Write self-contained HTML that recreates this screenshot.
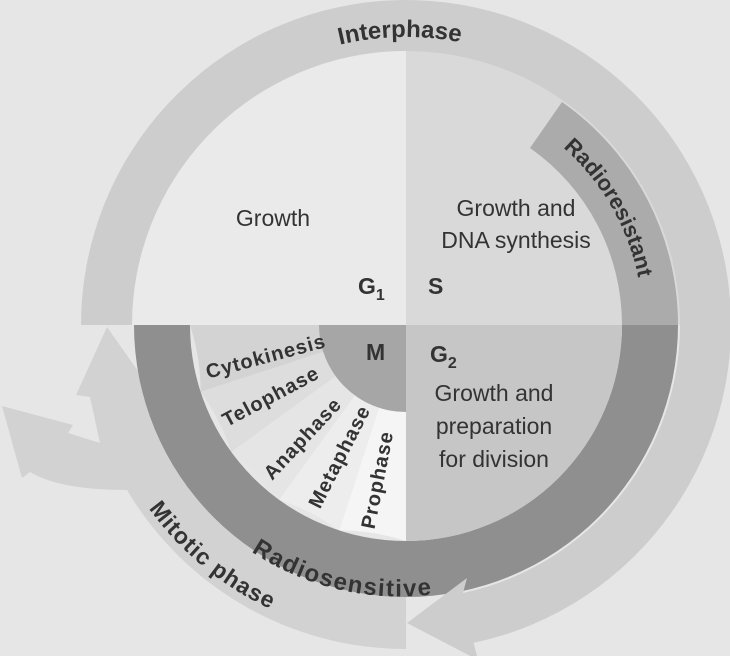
<!DOCTYPE html>
<html><head><meta charset="utf-8"><style>
html,body{margin:0;padding:0;background:#e6e6e6;}
svg{display:block;}
text{font-family:"Liberation Sans",Arial,sans-serif;fill:#333;}
.b{font-weight:bold;}
</style></head><body>
<svg width="730" height="656" viewBox="0 0 730 656" xmlns="http://www.w3.org/2000/svg">
<rect width="730" height="656" fill="#e6e6e6"/>
<defs>
<path id="pInter" d="M262,75.6 A288 288 0 0 1 550,75.6"/>
<path id="pRes" d="M524.5,119.7 A237 237 0 0 1 643,325"/>
<path id="pSens" d="M195.3,501.4 A266 266 0 0 0 505.6,574.2"/>
<path id="pMit" d="M108.8,433.7 A314 314 0 0 0 351.8,634.3"/>
</defs>
<path d="M406,325 L130,325 A276 276 0 0 1 406,49 Z" fill="#eaeaea"/>
<path d="M406,325 L406,49 A276 276 0 0 1 682,325 Z" fill="#d9d9d9"/>
<path d="M406,597 A272 272 0 0 1 141,387 L150,388 L107,327 L76,395 L90,397 L100,443 L68,433 L73,425 L2,406 L22,478 L30,472 Q60,490 127,490 A324 324 0 0 0 406,649 Z" fill="#d2d2d2"/>
<path d="M134,325 A272 272 0 0 0 678,325 L622,325 A216 216 0 0 1 190,325 Z" fill="#8f8f8f"/>
<path d="M530,148 L562,102 A272 272 0 0 1 678,325 L622,325 A216 216 0 0 0 530,148 Z" fill="#ababab"/>
<path d="M406,325 L622,325 A216 216 0 0 1 406,541 Z" fill="#c6c6c6"/>
<path d="M406,325 L406,541 A216 216 0 0 0 339.3,530.4 Z" fill="#f5f5f5"/>
<path d="M406,325 L339.3,530.4 A216 216 0 0 0 279,499.7 Z" fill="#ededed"/>
<path d="M406,325 L279,499.7 A216 216 0 0 0 231.3,452 Z" fill="#e5e5e5"/>
<path d="M406,325 L231.3,452 A216 216 0 0 0 200.6,391.7 Z" fill="#dddddd"/>
<path d="M406,325 L200.6,391.7 A216 216 0 0 0 190,325 Z" fill="#d3d3d3"/>
<path d="M406,325 L319,325 A87 87 0 0 0 406,412 Z" fill="#a6a6a6"/>
<path d="M81,325 A325 325 0 1 1 473.6,642.9 L478,660 L407,623 L467,578 L463,593 A274 274 0 1 0 132,325 Z" fill="#cdcdcd"/>

<text class="b" font-size="24" text-anchor="middle"><textPath href="#pInter" startOffset="48%">Interphase</textPath></text>
<text class="b" font-size="22" text-anchor="middle"><textPath href="#pRes" startOffset="50%">Radioresistant</textPath></text>
<text class="b" font-size="24" letter-spacing="1.5" text-anchor="middle"><textPath href="#pSens" startOffset="50%">Radiosensitive</textPath></text>
<text class="b" font-size="23" letter-spacing="1" text-anchor="middle"><textPath href="#pMit" startOffset="50%">Mitotic phase</textPath></text>

<text x="273" y="226" font-size="23" text-anchor="middle">Growth</text>
<text x="516" y="216" font-size="23" text-anchor="middle">Growth and</text>
<text x="516" y="248" font-size="23" text-anchor="middle">DNA synthesis</text>
<text x="358" y="294" font-size="23" class="b">G<tspan font-size="16" dy="6">1</tspan></text>
<text x="428" y="294" font-size="23" class="b">S</text>
<text x="366" y="360" font-size="23" class="b">M</text>
<text x="430" y="362" font-size="23" class="b">G<tspan font-size="16" dy="6">2</tspan></text>
<text x="494" y="401" font-size="23" text-anchor="middle">Growth and</text>
<text x="494" y="434" font-size="23" text-anchor="middle">preparation</text>
<text x="494" y="467" font-size="23" text-anchor="middle">for division</text>

<text class="b" font-size="20" letter-spacing="1" text-anchor="middle" dominant-baseline="central" transform="translate(266,357) rotate(-15)">Cytokinesis</text>
<text class="b" font-size="20" letter-spacing="1" text-anchor="middle" dominant-baseline="central" transform="translate(271,397) rotate(-28)">Telophase</text>
<text class="b" font-size="20" letter-spacing="1" text-anchor="middle" dominant-baseline="central" transform="translate(303,439) rotate(-47)">Anaphase</text>
<text class="b" font-size="20" letter-spacing="1" text-anchor="middle" dominant-baseline="central" transform="translate(340,457) rotate(-63)">Metaphase</text>
<text class="b" font-size="20" letter-spacing="1" text-anchor="middle" dominant-baseline="central" transform="translate(378,480) rotate(-79)">Prophase</text>
</svg>
</body></html>
